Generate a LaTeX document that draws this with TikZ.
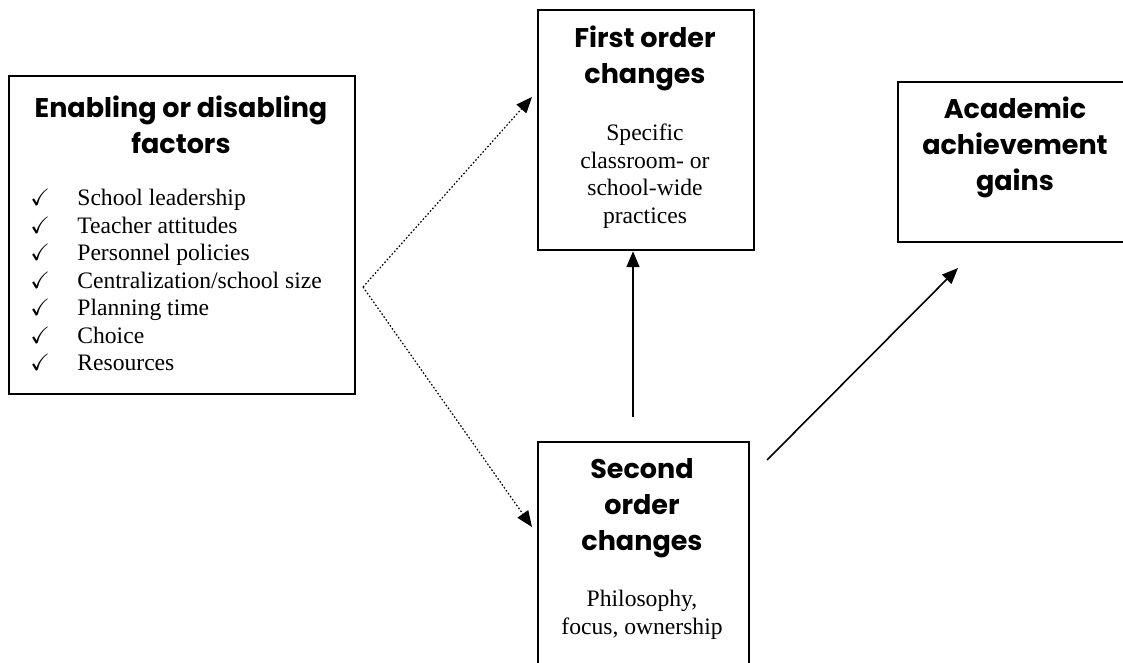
\documentclass[tikz,border=0pt]{standalone}
\usepackage{fontspec}
\usepackage{amssymb}
\setmainfont{Liberation Serif}
\newfontfamily\headfont{Poppins}
\usetikzlibrary{arrows.meta}

\begin{document}
\begin{tikzpicture}[x=0.5pt,y=-0.5pt]
        \tikzset{box/.style={draw,line width=1.1pt,anchor=north west,inner sep=0pt},
            head/.style={align=center,inner sep=0pt,
                font=\headfont\bfseries\fontsize{13.5}{18}\selectfont},
            body/.style={align=center,inner sep=0pt,
                font=\fontsize{11.8}{13.75}\selectfont},
            link/.style={line width=0.8pt,-{Triangle[length=8pt,width=6.5pt]}},
            hint/.style={link,densely dotted,line width=0.6pt}}
        \useasboundingbox (0,0) rectangle (1123,663);
        \node[box,minimum width=173pt,minimum height=159pt] (factors) at (8,75) {};
        \node[box,minimum width=108pt,minimum height=120pt] (first) at (537,9) {};
        \node[box,minimum width=105.5pt,minimum height=130pt] (second) at (537,441) {};
        \node[box,minimum width=118pt,minimum height=80pt] (gains) at (897,81) {};
        \node[head] (factorshead) at (181,125) {Enabling or disabling\\factors};
        \node[anchor=west,inner sep=0pt,font=\fontsize{11.8}{13.75}\selectfont] (factorlist) at (30,282.5) {%
            \begin{tabular}{@{}p{23.5pt}@{}l@{}}
                \checkmark & School leadership\\
                \checkmark & Teacher attitudes\\
                \checkmark & Personnel policies\\
                \checkmark & Centralization/school size\\
                \checkmark & Planning time\\
                \checkmark & Choice\\
                \checkmark & Resources
            \end{tabular}};
        \node[head] (firsthead) at (645,58) {First order\\changes};
        \node[body] (firstbody) at (645,176) {Specific\\classroom- or\\school-wide\\practices};
        \node[head] (secondhead) at (642,508) {Second\\order\\changes};
        \node[body] (secondbody) at (642,615) {Philosophy,\\focus, ownership};
        \node[head] (gainshead) at (1015,147.5) {Academic\\achievement\\gains};
        \coordinate (fork) at (363,287);
        \coordinate (firsttip) at (532,97);
        \coordinate (secondtip) at (532,527);
        \draw[hint] (fork) -- (firsttip);
        \draw[hint] (fork) -- (secondtip);
        \coordinate (rise) at (633,417);
        \draw[link] (rise) -- (rise |- first.south);
        \coordinate (climb) at (767,460);
        \coordinate (gainstip) at (958,268);
        \draw[link] (climb) -- (gainstip);
    \end{tikzpicture}
\end{document}
